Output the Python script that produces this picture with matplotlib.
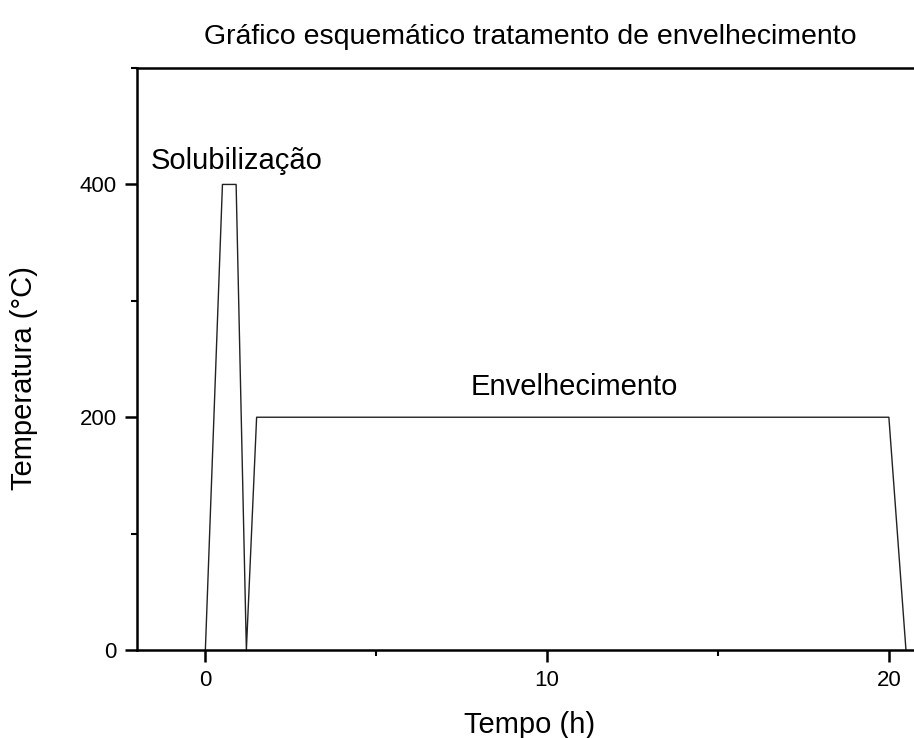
import matplotlib
import matplotlib.pyplot as plt
from matplotlib.ticker import MultipleLocator

matplotlib.use('Agg')

plt.rcParams['font.family'] = ['Liberation Sans', 'DejaVu Sans']

# perfil térmico: solubilização seguida de envelhecimento
tempo_h = [0, 0.5, 0.9, 1.2, 1.5, 20, 20.5]
temperatura_c = [0, 400, 400, 0, 200, 200, 0]

fig = plt.figure(figsize=(9.14, 7.38), dpi=100)
ax = fig.add_axes([0.1499, 0.1192, 0.86, 0.7886])

ax.plot(tempo_h, temperatura_c, color='#222222', lw=1.0)

ax.set_xlim(-2, 21)
ax.set_ylim(0, 500)
ax.xaxis.set_major_locator(MultipleLocator(10))
ax.xaxis.set_minor_locator(MultipleLocator(5))
ax.yaxis.set_major_locator(MultipleLocator(200))
ax.yaxis.set_minor_locator(MultipleLocator(100))
ax.set_yticks([0, 200, 400])

for s in ax.spines.values():
    s.set_linewidth(1.8)

ax.tick_params(which='major', direction='out', length=8.5, width=1.8, labelsize=16, pad=6)
ax.tick_params(which='minor', direction='out', length=4.5, width=1.5)
ax.tick_params(which='both', top=False, right=False)

ax.set_xlabel('Tempo (h)', fontsize=21, labelpad=14)
ax.set_ylabel('Temperatura (°C)', fontsize=21)
ax.yaxis.set_label_coords(-0.126, 0.467)
ax.set_title('Gráfico esquemático tratamento de envelhecimento', fontsize=20.5, pad=17)

ax.text(0.91, 413, 'Solubilização', fontsize=21, ha='center', va='baseline')
ax.text(10.8, 219, 'Envelhecimento', fontsize=21, ha='center', va='baseline')

fig.savefig('out.png', dpi=100)
plt.close(fig)
